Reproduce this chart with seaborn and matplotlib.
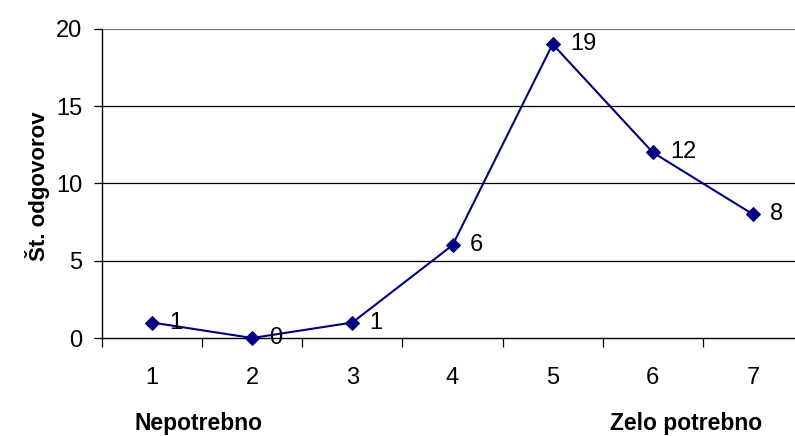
import matplotlib
matplotlib.use("Agg")
import matplotlib.pyplot as plt
from matplotlib.ticker import FixedLocator
import seaborn as sns
import pandas as pd

# Survey answers: rating 1 (not needed) .. 7 (very needed) and number of answers
ratings = [1, 2, 3, 4, 5, 6, 7]
answers = [1, 0, 1, 6, 19, 12, 8]
y_ticks = [0, 5, 10, 15, 20]

sns.set_style("white")
plt.rcParams["font.family"] = ["Liberation Sans", "DejaVu Sans"]
plt.rcParams["text.color"] = "black"
plt.rcParams["xtick.color"] = "black"
plt.rcParams["ytick.color"] = "black"
plt.rcParams["xtick.labelcolor"] = "black"
plt.rcParams["ytick.labelcolor"] = "black"

W, H = 795, 436
fig = plt.figure(figsize=(W / 100, H / 100), dpi=100)

# plot area in pixel coordinates (left, top, right, bottom)
x0, y_top, x1, y_bot = 102, 28.7, 803, 338
ax = fig.add_axes([x0 / W, 1 - y_bot / H, (x1 - x0) / W, (y_bot - y_top) / H])

df = pd.DataFrame({"ocena": ratings, "odgovori": answers})
navy = "#000080"
sns.lineplot(data=df, x="ocena", y="odgovori", ax=ax, color=navy, linewidth=1.5,
             marker="D", markersize=7, markeredgecolor=navy, markerfacecolor=navy,
             clip_on=False, zorder=5)

ax.set_xlim(0.5, 7.5)
ax.set_ylim(0, 20)

# horizontal gridlines
for v in y_ticks[1:]:
    ax.axhline(v, color="#000000" if v < 20 else "#808080", linewidth=0.9, zorder=1)

for s in ["top", "right"]:
    ax.spines[s].set_visible(False)
for s in ["left", "bottom"]:
    ax.spines[s].set_color("black")
    ax.spines[s].set_linewidth(1.0)

ax.set_yticks(y_ticks)
ax.set_yticklabels([str(v) for v in y_ticks])
ax.tick_params(axis="y", direction="out", length=6, width=0.9, color="black",
               labelcolor="black", pad=8, labelsize=17, left=True)

ax.set_xticks(ratings)
ax.set_xticklabels([str(r) for r in ratings])
ax.xaxis.set_minor_locator(FixedLocator([r + 0.5 for r in [0] + ratings]))
ax.tick_params(axis="x", which="major", length=0, pad=21, labelsize=17,
               labelcolor="black")
ax.tick_params(axis="x", which="minor", direction="out", length=6.5, width=0.9,
               color="black", bottom=True)

ax.set_xlabel("")
ax.set_ylabel("")

# value labels beside each point
for r, a in zip(ratings, answers):
    ax.annotate(str(a), (r, a), xytext=(12.5, 0), textcoords="offset points",
                ha="left", va="center", fontsize=17, color="black", zorder=6)

fig.text(38 / W, 1 - 186 / H, "Št. odgovorov", rotation=90, ha="center", va="center",
         fontsize=16, fontweight="bold", color="black")
fig.text(199 / W, 1 - 435 / H, "Nepotrebno", ha="center", va="bottom",
         fontsize=16.5, fontweight="bold", color="black")
fig.text(686 / W, 1 - 435 / H, "Zelo potrebno", ha="center", va="bottom",
         fontsize=16.5, fontweight="bold", color="black")

fig.savefig("out.png", dpi=100)
